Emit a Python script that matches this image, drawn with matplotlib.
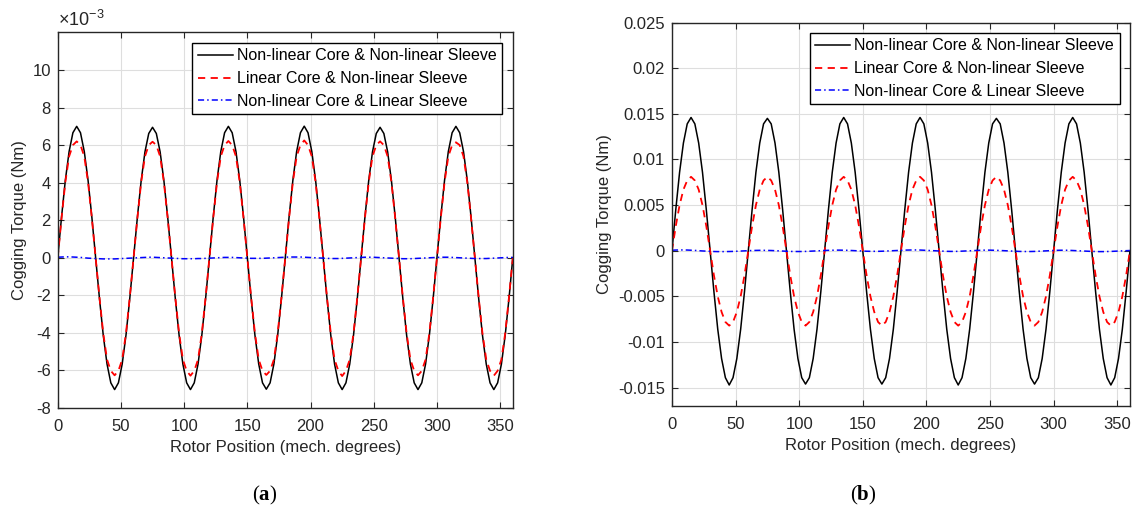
import numpy as np
import matplotlib
matplotlib.use('Agg')
import matplotlib.pyplot as plt

plt.rcParams['font.family'] = ['Liberation Sans', 'DejaVu Sans']
plt.rcParams['axes.unicode_minus'] = False
plt.rcParams['mathtext.fontset'] = 'custom'
plt.rcParams['mathtext.rm'] = 'Liberation Sans'
plt.rcParams['mathtext.bf'] = 'Liberation Serif:bold'

# rotor position (mech. degrees), sampled every 3 degrees
position = np.arange(0, 361, 3)

# (a) cogging torque, x10^-3 Nm
a_nl_core_nl_sleeve = [
    0.00, 2.16, 4.12, 5.66, 6.66, 7.00, 6.66, 5.66, 4.12, 2.16, 0.00, -2.16, -4.12, -5.66, -6.66, -7.02, -6.66, -5.66, -4.12, -2.16,
    0.00, 2.15, 4.10, 5.64, 6.62, 6.95, 6.62, 5.64, 4.10, 2.15, 0.00, -2.16, -4.12, -5.66, -6.66, -7.02, -6.66, -5.66, -4.12, -2.16,
    0.00, 2.16, 4.12, 5.66, 6.66, 7.00, 6.66, 5.66, 4.12, 2.16, 0.00, -2.16, -4.12, -5.66, -6.66, -7.00, -6.66, -5.66, -4.12, -2.16,
    0.00, 2.16, 4.12, 5.66, 6.66, 7.01, 6.66, 5.66, 4.12, 2.16, 0.00, -2.16, -4.12, -5.66, -6.66, -7.02, -6.66, -5.66, -4.12, -2.16,
    0.00, 2.15, 4.10, 5.64, 6.62, 6.95, 6.62, 5.64, 4.10, 2.15, 0.00, -2.16, -4.12, -5.66, -6.66, -7.02, -6.66, -5.66, -4.12, -2.16,
    0.00, 2.16, 4.12, 5.66, 6.66, 7.00, 6.66, 5.66, 4.12, 2.16, 0.00, -2.16, -4.12, -5.66, -6.66, -7.02, -6.66, -5.66, -4.12, -2.16,
    0.00]
a_lin_core_nl_sleeve = [
    0.00, 2.10, 4.02, 5.40, 6.00, 6.20, 6.00, 5.40, 4.02, 2.10, 0.00, -2.10, -4.02, -5.42, -6.02, -6.26, -6.02, -5.42, -4.02, -2.10,
    0.00, 2.10, 4.02, 5.40, 6.00, 6.18, 6.00, 5.40, 4.02, 2.10, 0.00, -2.10, -4.02, -5.42, -6.02, -6.28, -6.02, -5.42, -4.02, -2.10,
    0.00, 2.10, 4.02, 5.40, 6.00, 6.22, 6.00, 5.40, 4.02, 2.10, 0.00, -2.10, -4.02, -5.42, -6.02, -6.24, -6.02, -5.42, -4.02, -2.10,
    0.00, 2.10, 4.02, 5.40, 6.00, 6.25, 6.00, 5.40, 4.02, 2.10, 0.00, -2.10, -4.02, -5.42, -6.02, -6.30, -6.02, -5.42, -4.02, -2.10,
    0.00, 2.10, 4.02, 5.40, 6.00, 6.20, 6.00, 5.40, 4.02, 2.10, 0.00, -2.10, -4.02, -5.42, -6.02, -6.26, -6.02, -5.42, -4.02, -2.10,
    0.00, 2.10, 4.02, 5.40, 6.00, 6.15, 6.00, 5.40, 4.02, 2.10, 0.00, -2.10, -4.02, -5.42, -6.02, -6.28, -6.02, -5.42, -4.02, -2.10,
    0.00]
a_nl_core_lin_sleeve = [
    0.03, 0.04, 0.05, 0.05, 0.04, 0.03, 0.02, 0.00, -0.02, -0.03, -0.04, -0.05, -0.06, -0.06, -0.06, -0.06, -0.05, -0.04, -0.03, -0.02,
    -0.01, 0.00, 0.01, 0.02, 0.03, 0.03, 0.02, 0.01, 0.00, -0.01, -0.02, -0.03, -0.04, -0.05, -0.05, -0.05, -0.05, -0.04, -0.04, -0.03,
    -0.02, -0.01, 0.00, 0.01, 0.02, 0.02, 0.02, 0.01, 0.00, -0.01, -0.02, -0.03, -0.03, -0.03, -0.03, -0.02, -0.01, 0.00, 0.01, 0.02,
    0.03, 0.04, 0.04, 0.04, 0.04, 0.03, 0.02, 0.01, 0.00, -0.01, -0.02, -0.03, -0.04, -0.04, -0.04, -0.03, -0.02, -0.01, 0.00, 0.01,
    0.02, 0.03, 0.03, 0.03, 0.02, 0.01, 0.00, -0.01, -0.02, -0.03, -0.04, -0.05, -0.05, -0.05, -0.04, -0.03, -0.02, -0.01, 0.00, 0.01,
    0.02, 0.03, 0.03, 0.03, 0.02, 0.01, 0.00, -0.01, -0.02, -0.03, -0.04, -0.04, -0.04, -0.04, -0.03, -0.02, -0.01, 0.00, 0.01, 0.02,
    0.02]

# (b) cogging torque, Nm
b_nl_core_nl_sleeve = [
    0.0, 0.0045, 0.0086, 0.0118, 0.0139, 0.0146, 0.0139, 0.0118, 0.0086, 0.0045, 0.0, -0.0045, -0.0086, -0.0118, -0.0139, -0.0147, -0.0139, -0.0118, -0.0086, -0.0045,
    0.0, 0.0045, 0.0086, 0.0118, 0.0139, 0.0145, 0.0139, 0.0118, 0.0086, 0.0045, 0.0, -0.0045, -0.0086, -0.0118, -0.0139, -0.0146, -0.0139, -0.0118, -0.0086, -0.0045,
    0.0, 0.0045, 0.0086, 0.0118, 0.0139, 0.0146, 0.0139, 0.0118, 0.0086, 0.0045, 0.0, -0.0045, -0.0086, -0.0118, -0.0139, -0.0146, -0.0139, -0.0118, -0.0086, -0.0045,
    0.0, 0.0045, 0.0086, 0.0118, 0.0139, 0.0146, 0.0139, 0.0118, 0.0086, 0.0045, 0.0, -0.0045, -0.0086, -0.0118, -0.0139, -0.0147, -0.0139, -0.0118, -0.0086, -0.0045,
    0.0, 0.0045, 0.0086, 0.0118, 0.0139, 0.0145, 0.0139, 0.0118, 0.0086, 0.0045, 0.0, -0.0045, -0.0086, -0.0118, -0.0139, -0.0146, -0.0139, -0.0118, -0.0086, -0.0045,
    0.0, 0.0045, 0.0086, 0.0118, 0.0139, 0.0146, 0.0139, 0.0118, 0.0086, 0.0045, 0.0, -0.0045, -0.0086, -0.0118, -0.0139, -0.0147, -0.0139, -0.0118, -0.0086, -0.0045,
    0.0]
b_lin_core_nl_sleeve = [
    0.0, 0.0027, 0.0050, 0.0067, 0.0077, 0.0081, 0.0077, 0.0067, 0.0050, 0.0027, 0.0, -0.0027, -0.0050, -0.0067, -0.0078, -0.0082, -0.0078, -0.0067, -0.0050, -0.0027,
    0.0, 0.0027, 0.0050, 0.0067, 0.0077, 0.0081, 0.0077, 0.0067, 0.0050, 0.0027, 0.0, -0.0027, -0.0050, -0.0067, -0.0078, -0.0082, -0.0078, -0.0067, -0.0050, -0.0027,
    0.0, 0.0027, 0.0050, 0.0067, 0.0077, 0.0081, 0.0077, 0.0067, 0.0050, 0.0027, 0.0, -0.0027, -0.0050, -0.0067, -0.0078, -0.0082, -0.0078, -0.0067, -0.0050, -0.0027,
    0.0, 0.0027, 0.0050, 0.0067, 0.0077, 0.0081, 0.0077, 0.0067, 0.0050, 0.0027, 0.0, -0.0027, -0.0050, -0.0067, -0.0078, -0.0082, -0.0078, -0.0067, -0.0050, -0.0027,
    0.0, 0.0027, 0.0050, 0.0067, 0.0077, 0.0081, 0.0077, 0.0067, 0.0050, 0.0027, 0.0, -0.0027, -0.0050, -0.0067, -0.0078, -0.0082, -0.0078, -0.0067, -0.0050, -0.0027,
    0.0, 0.0027, 0.0050, 0.0067, 0.0077, 0.0081, 0.0077, 0.0067, 0.0050, 0.0027, 0.0, -0.0027, -0.0050, -0.0067, -0.0078, -0.0082, -0.0078, -0.0067, -0.0050, -0.0027,
    0.0]
b_nl_core_lin_sleeve = [
    0.00006, 0.00008, 0.00009, 0.00009, 0.00008, 0.00006, 0.00004, 0.00001, -0.00002, -0.00004, -0.00006, -0.00008, -0.00009, -0.00009, -0.00009, -0.00008, -0.00007, -0.00005, -0.00003, -0.00001,
    0.00001, 0.00003, 0.00004, 0.00005, 0.00005, 0.00004, 0.00003, 0.00001, -0.00001, -0.00003, -0.00005, -0.00007, -0.00008, -0.00008, -0.00008, -0.00007, -0.00005, -0.00003, -0.00001, 0.00001,
    0.00003, 0.00005, 0.00006, 0.00007, 0.00007, 0.00006, 0.00005, 0.00003, 0.00001, -0.00001, -0.00003, -0.00005, -0.00006, -0.00006, -0.00006, -0.00005, -0.00003, -0.00001, 0.00001, 0.00003,
    0.00005, 0.00007, 0.00008, 0.00009, 0.00009, 0.00008, 0.00006, 0.00004, 0.00002, 0.00000, -0.00002, -0.00004, -0.00006, -0.00007, -0.00007, -0.00006, -0.00004, -0.00002, 0.00000, 0.00002,
    0.00004, 0.00006, 0.00007, 0.00007, 0.00006, 0.00005, 0.00003, 0.00001, -0.00001, -0.00003, -0.00005, -0.00007, -0.00008, -0.00008, -0.00008, -0.00007, -0.00005, -0.00003, -0.00001, 0.00001,
    0.00003, 0.00005, 0.00006, 0.00006, 0.00005, 0.00003, 0.00001, -0.00001, -0.00003, -0.00005, -0.00007, -0.00008, -0.00009, -0.00009, -0.00008, -0.00007, -0.00005, -0.00003, -0.00001, 0.00001,
    0.00003]

labels = ['Non-linear Core & Non-linear Sleeve',
          'Linear Core & Non-linear Sleeve',
          'Non-linear Core & Linear Sleeve']

x_ticks = [0, 50, 100, 150, 200, 250, 300, 350]
a_yticks = [-8, -6, -4, -2, 0, 2, 4, 6, 8, 10]
b_yticks = [-0.015, -0.01, -0.005, 0, 0.005, 0.01, 0.015, 0.02, 0.025]
b_ytick_labels = ['-0.015', '-0.01', '-0.005', '0', '0.005', '0.01', '0.015', '0.02', '0.025']

txt = '#262626'
fig = plt.figure(figsize=(11.32, 5.13), dpi=100)
ax1 = fig.add_axes([0.051, 0.2047, 0.402, 0.732])
ax2 = fig.add_axes([0.5936, 0.2086, 0.4046, 0.7475])


def style(ax, ys, fs=12):
    ax.plot(position, ys[0], color='k', lw=1.1, label=labels[0])
    ax.plot(position, ys[1], color='r', lw=1.3, dashes=(4, 3), label=labels[1])
    ax.plot(position, ys[2], color='b', lw=1.1, dashes=(4, 2, 1, 2), label=labels[2])
    ax.set_xlim(0, 360)
    ax.set_xticks(x_ticks)
    ax.grid(True, color='#dedede', lw=0.8)
    ax.set_axisbelow(True)
    ax.tick_params(direction='in', top=True, right=True, length=4, width=0.8,
                   labelsize=fs, labelcolor=txt, color=txt)
    ax.tick_params(axis='x', pad=8)
    ax.tick_params(axis='y', pad=5)
    for s in ax.spines.values():
        s.set_color(txt)
        s.set_linewidth(1.0)
    ax.set_xlabel('Rotor Position (mech. degrees)', fontsize=fs, color=txt, labelpad=4)
    ax.set_ylabel('Cogging Torque (Nm)', fontsize=fs, color=txt, labelpad=4)
    leg = ax.legend(loc='upper right', fontsize=11.5, frameon=True, fancybox=False,
                    framealpha=1, edgecolor='k', borderaxespad=0.65, borderpad=0.35,
                    handlelength=2.2, handletextpad=0.25, labelspacing=0.48)
    leg.get_frame().set_linewidth(1.0)
    for t in leg.get_texts():
        t.set_color('k')


style(ax1, [a_nl_core_nl_sleeve, a_lin_core_nl_sleeve, a_nl_core_lin_sleeve])
ax1.set_ylim(-8, 12)
ax1.set_yticks(a_yticks)
ax1.text(0, 1.006, r'$\times$10$^{\mathregular{-3}}$', transform=ax1.transAxes,
         fontsize=13, color=txt, ha='left', va='bottom')

style(ax2, [b_nl_core_nl_sleeve, b_lin_core_nl_sleeve, b_nl_core_lin_sleeve])
ax2.set_ylim(-0.017, 0.025)
ax2.set_yticks(b_yticks)
ax2.set_yticklabels(b_ytick_labels)

fig.text(265 / 1132, 1 - 495 / 513, r'($\mathbf{a}$)', fontfamily='Liberation Serif',
         fontsize=15, ha='center', va='center', color='k')
fig.text(863 / 1132, 1 - 495 / 513, r'($\mathbf{b}$)', fontfamily='Liberation Serif',
         fontsize=15, ha='center', va='center', color='k')

fig.savefig('out.png', dpi=100)
